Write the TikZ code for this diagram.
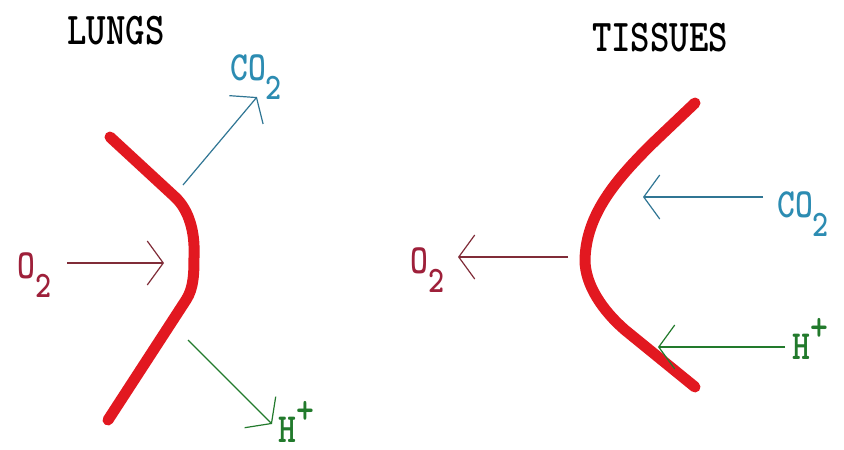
\documentclass[tikz,border=0pt]{standalone}
\usepackage{graphicx}
\usepackage{tikz}
\usetikzlibrary{arrows.meta}

\definecolor{vesselred}{RGB}{226,24,32}
\definecolor{oxred}{RGB}{158,32,58}
\definecolor{oxline}{RGB}{128,44,56}
\definecolor{carbblue}{RGB}{44,140,178}
\definecolor{carbline}{RGB}{48,118,148}
\definecolor{hgreen}{RGB}{34,122,44}

\newcommand{\tall}[2]{\scalebox{1}[#1]{#2}}
\newcommand{\chsub}[1]{\raisebox{-0.46em}{\scalebox{0.9}{#1}}}
\newcommand{\chsup}[1]{\raisebox{0.45em}{#1}}

\begin{document}
\begin{tikzpicture}[
    x=1pt, y=-1pt,
    title/.style={font=\fontsize{37}{40}\selectfont\ttfamily\bfseries, inner sep=0pt},
    chem/.style={font=\fontsize{34}{38}\selectfont\ttfamily\bfseries, inner sep=0pt, anchor=base west},
    vessel/.style={draw=vesselred, line width=11pt, line cap=round, line join=round},
    gas/.style={-{Straight Barb[length=16pt, width=44pt]}, line width=1.2pt}
]
    \useasboundingbox[fill=white] (0,0) rectangle (844,450);

    % Titles
    \node[title] (lungs) at (116,31) {\tall{1.23}{LUNGS}};
    \node[title] (tissues) at (660,38) {\tall{1.23}{TISSUES}};

    % Capillary walls
    \draw[vessel] (110,137) -- (175,197) .. controls (189,210) and (195,232) .. (194,255)
        .. controls (194,272) and (194,288) .. (186,300) -- (108,420);
    \draw[vessel] (695,103) -- (655,141) .. controls (615,180) and (586,215) .. (585,260)
        .. controls (585,285) and (603,311) .. (625,330) -- (695,387);

    % Arrow ends
    \coordinate (lo2tail) at (67,263);
    \coordinate (lo2tip) at (164,263);
    \coordinate (lco2tail) at (183,185);
    \coordinate (lco2tip) at (257,97);
    \coordinate (lhtail) at (188,340);
    \coordinate (lhtip) at (272,424);
    \coordinate (rco2tail) at (763,197);
    \coordinate (rco2tip) at (643,197);
    \coordinate (ro2tail) at (568,257);
    \coordinate (ro2tip) at (458,257);
    \coordinate (rhtail) at (785,347);
    \coordinate (rhtip) at (658,347);

    % Lungs
    \node[chem, text=oxred] (lo2) at (17,278) {\tall{1.22}{O\chsub{2}}};
    \node[chem, text=carbblue] (lco2) at (230,80) {\tall{1.22}{CO\chsub{2}}};
    \node[chem, text=hgreen] (lh) at (278,442) {\tall{1.22}{H\chsup{+}}};

    % Tissues
    \node[chem, text=oxred] (ro2) at (410,273) {\tall{1.22}{O\chsub{2}}};
    \node[chem, text=carbblue] (rco2) at (777,217) {\tall{1.22}{CO\chsub{2}}};
    \node[chem, text=hgreen] (rh) at (792,359) {\tall{1.22}{H\chsup{+}}};

    % Arrows
    \draw[gas, draw=oxline] (lo2tail) -- (lo2tip);
    \draw[gas, draw=carbline] (lco2tail) -- (lco2tip);
    \draw[gas, draw=hgreen] (lhtail) -- (lhtip);
    \draw[gas, draw=carbline] (rco2tail) -- (rco2tip);
    \draw[gas, draw=oxline] (ro2tail) -- (ro2tip);
    \draw[gas, draw=hgreen] (rhtail) -- (rhtip);

\end{tikzpicture}
\end{document}
